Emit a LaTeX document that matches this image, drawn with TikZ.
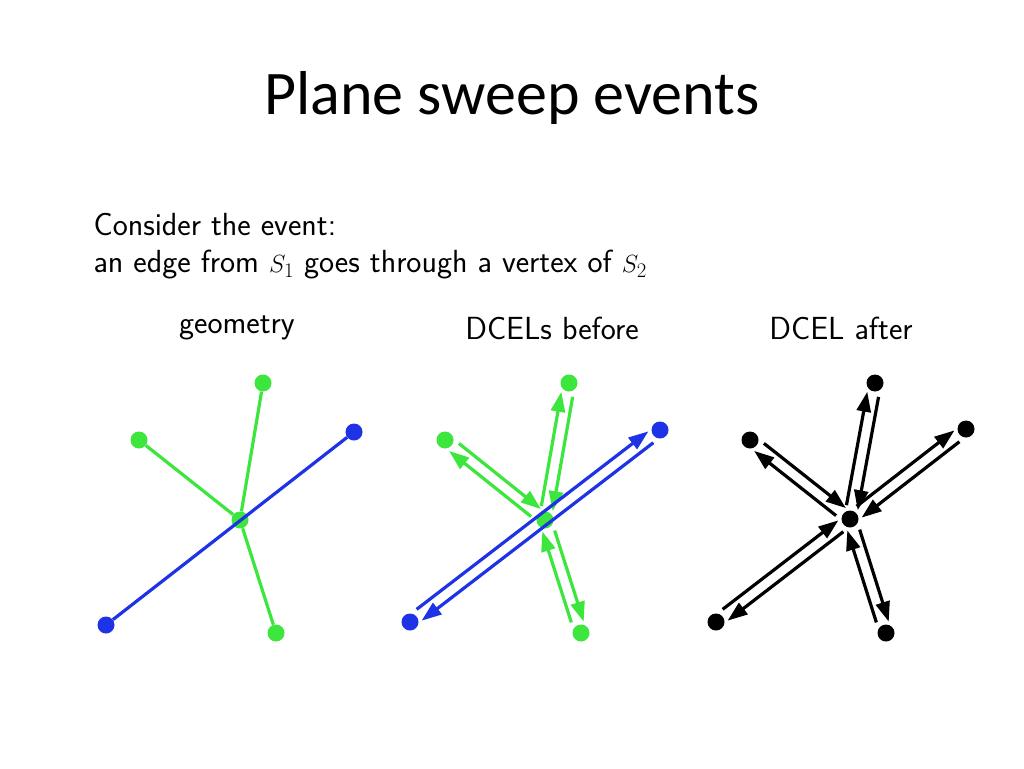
\documentclass[tikz,border=0pt]{standalone}
\usepackage{fontspec}
\setmainfont{Carlito}
\usepackage{amsmath}
\usetikzlibrary{calc,arrows.meta}

\tikzset{
  dot/.style={circle,fill=#1,inner sep=0pt,minimum size=17pt},
  half/.style={line width=3.2pt,-{Triangle[length=20pt,width=14pt]},shorten <=13pt,shorten >=10pt},
  caption/.style={font=\sffamily\fontsize{32}{38}\selectfont}
}
% twin half-edges between two named nodes
\newcommand{\twin}[3]{%
  \draw[half,#3] ($(#1)!6pt!90:(#2)$) -- ($(#2)!6pt!-90:(#1)$);
  \draw[half,#3] ($(#2)!6pt!90:(#1)$) -- ($(#1)!6pt!-90:(#2)$);
}

\begin{document}
\begin{tikzpicture}[x=1pt,y=-1pt]
  \definecolor{sgreen}{RGB}{60,230,60}
  \definecolor{sblue}{RGB}{30,50,230}
  \useasboundingbox (0,0) rectangle (1024,768);

  \node (title) at (512,98) {\fontsize{62}{72}\selectfont Plane sweep events};
  \node[caption,anchor=west] (line1) at (90,225) {Consider the event:};
  \node[caption,anchor=west] (line2) at (90,265) {an edge from $S_1$ goes through a vertex of $S_2$};
  \node[caption] (lgeo) at (237,328) {geometry};
  \node[caption] (lbef) at (552,328) {DCELs before};
  \node[caption] (laft) at (841,328) {DCEL after};

  % geometry
  \node[dot=sgreen] (gc) at (240,520) {};
  \node[dot=sgreen] (g1) at (263,383) {};
  \node[dot=sgreen] (g2) at (139,440) {};
  \node[dot=sgreen] (g3) at (276,633) {};
  \node[dot=sblue] (b1) at (354,432) {};
  \node[dot=sblue] (b2) at (106,625) {};
  \draw[sgreen,line width=3.2pt] (g1) -- (gc) (g2) -- (gc) (g3) -- (gc);
  \draw[sblue,line width=3.2pt] (b1) -- (b2);

  % DCELs before
  \node[dot=sgreen] (mc) at (545,520) {};
  \node[dot=sgreen] (m1) at (569,383) {};
  \node[dot=sgreen] (m2) at (445,440) {};
  \node[dot=sgreen] (m3) at (581,633) {};
  \node[dot=sblue] (n1) at (660,430) {};
  \node[dot=sblue] (n2) at (410,622) {};
  \twin{mc}{m1}{sgreen}
  \twin{mc}{m2}{sgreen}
  \twin{mc}{m3}{sgreen}
  \twin{n2}{n1}{sblue}

  % DCEL after
  \node[dot=black] (rc) at (850,519) {};
  \node[dot=black] (r1) at (875,383) {};
  \node[dot=black] (r2) at (750,440) {};
  \node[dot=black] (r3) at (966,429) {};
  \node[dot=black] (r4) at (716,622) {};
  \node[dot=black] (r5) at (886,633) {};
  \foreach \r in {r1,r2,r3,r4,r5} {
    \twin{rc}{\r}{black}
  }
\end{tikzpicture}
\end{document}
